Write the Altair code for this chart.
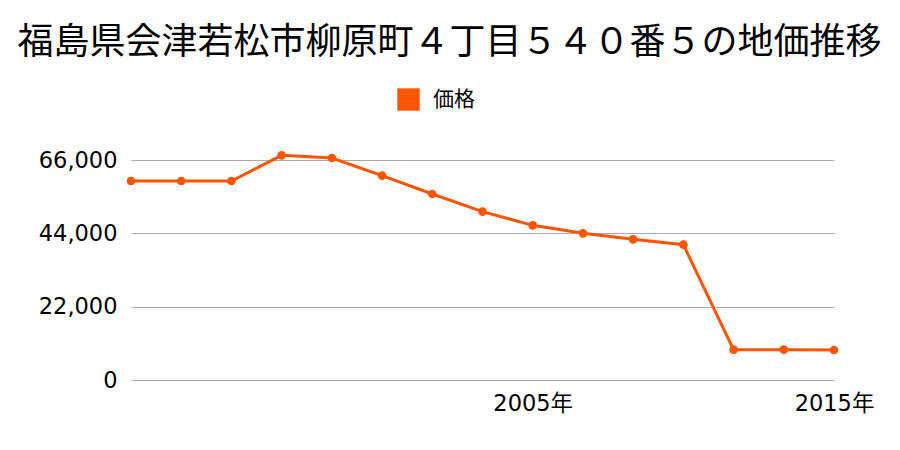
import altair as alt
import pandas as pd

years = ["1997", "1998", "1999", "2000", "2001", "2002", "2003", "2004", "2005",
         "2006", "2007", "2008", "2013", "2014", "2015"]
prices = [59700, 59700, 59700, 67400, 66600, 61300, 55800, 50500, 46400,
          44000, 42200, 40600, 9100, 9100, 9000]
series = ["価格"] * len(years)
shown_labels = ["2005", "2015"]
y_ticks = [0, 22000, 44000, 66000]

df = pd.DataFrame({"year": years, "price": prices, "series": series})

FONT = "Noto Sans CJK JP"
NUMFONT = "DejaVu Sans, Noto Sans CJK JP"
COLOR = "#ff5500"

x_enc = alt.X(
    "year:O",
    sort=years,
    scale=alt.Scale(type="point", padding=0),
    axis=alt.Axis(
        title=None,
        labelExpr="indexof(['2005','2015'], datum.value) >= 0 ? datum.value + '年' : ''",
        labelAngle=0,
        labelFontSize=22.5,
        labelFont=NUMFONT,
        labelColor="#000000",
        labelPadding=12,
        ticks=False,
        domain=False,
        grid=False,
    ),
)
y_enc = alt.Y(
    "price:Q",
    scale=alt.Scale(domain=[0, 66000], nice=False),
    axis=alt.Axis(
        title=None,
        values=y_ticks,
        format=",.0f",
        labelFontSize=22.5,
        labelFont=NUMFONT,
        labelColor="#000000",
        labelPadding=14,
        ticks=False,
        domain=False,
        gridColor="#aaaaaa",
        gridWidth=1,
    ),
)
color_enc = alt.Color(
    "series:N",
    scale=alt.Scale(domain=["価格"], range=[COLOR]),
    legend=alt.Legend(
        title=None,
        orient="none",
        legendX=266,
        legendY=-72,
        symbolType="square",
        symbolSize=500,
        symbolStrokeWidth=0,
        labelFontSize=21,
        labelFont=FONT,
        labelColor="#000000",
        labelOffset=13,
    ),
)

line = alt.Chart(df).mark_line(color=COLOR, strokeWidth=3, clip=False).encode(
    x=x_enc, y=y_enc, color=color_enc
)
points = alt.Chart(df).mark_circle(color=COLOR, size=75, opacity=1, clip=False).encode(
    x=x_enc, y=y_enc, color=color_enc
)

chart = (
    alt.layer(line, points)
    .properties(
        width=703,
        height=220,
        autosize=alt.AutoSizeParams(type="none"),
        padding={"left": 131, "top": 160, "right": 66, "bottom": 70},
        title=alt.TitleParams(
            "福島県会津若松市柳原町４丁目５４０番５の地価推移",
            font=FONT,
            fontSize=36,
            fontWeight="normal",
            color="#000000",
            anchor="middle",
            dx=-33,
            offset=26,
        ),
    )
    .configure_view(stroke=None)
)

chart.save("out.html", embed_options={"renderer": "svg", "actions": False})
